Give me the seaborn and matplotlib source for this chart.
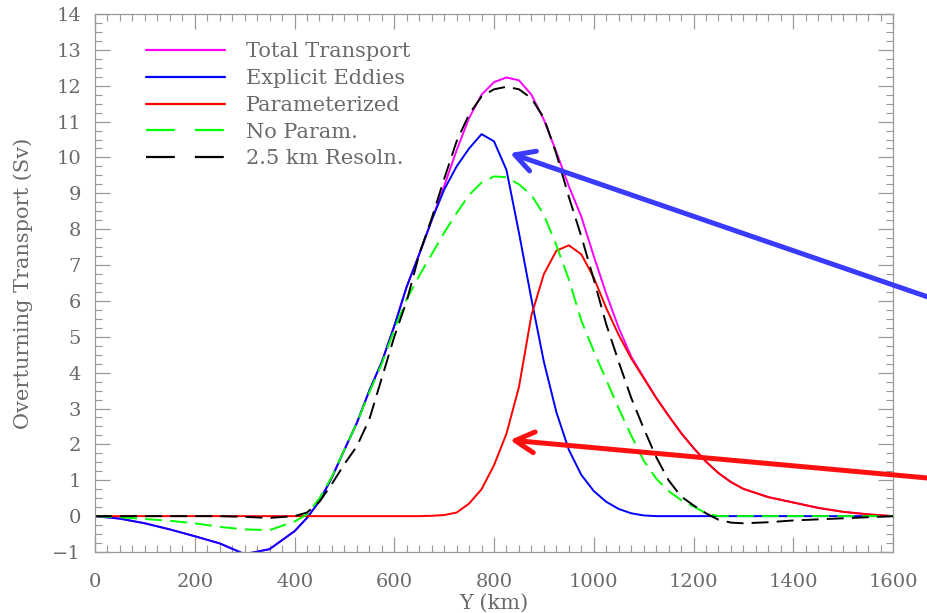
import numpy as np
import pandas as pd
import matplotlib
matplotlib.use("Agg")
import matplotlib.pyplot as plt
from matplotlib.lines import Line2D
from matplotlib.ticker import MultipleLocator
import seaborn as sns

# ---------------------------------------------------------------------------
# Data (Y in km, transport in Sv)
# ---------------------------------------------------------------------------
y_km = [0, 50, 100, 150, 200, 250, 300, 350, 400,
        425, 450, 475, 500, 525, 550, 575, 600, 625, 650, 675, 700,
        725, 750, 775, 800, 825, 850, 875, 900, 925, 950, 975, 1000,
        1025, 1050, 1075, 1100, 1125, 1150, 1175, 1200, 1225, 1250, 1275, 1300,
        1350, 1400, 1450, 1500, 1550, 1600]

explicit = [0, -0.07, -0.2, -0.37, -0.56, -0.76, -1.06, -0.92, -0.42,
            -0.05, 0.42, 1.08, 1.85, 2.6, 3.5, 4.3, 5.3, 6.4, 7.3, 8.25, 9.1,
            9.75, 10.25, 10.65, 10.45, 9.65, 7.9, 6.05, 4.3, 2.9, 1.85, 1.15, 0.7,
            0.4, 0.2, 0.08, 0.02, 0, 0, 0, 0, 0, 0, 0, 0,
            0, 0, 0, 0, 0, 0]

param = [0, 0, 0, 0, 0, 0, 0, 0, 0,
         0, 0, 0, 0, 0, 0, 0, 0, 0, 0, 0.01, 0.03,
         0.1, 0.35, 0.75, 1.42, 2.3, 3.6, 5.6, 6.75, 7.4, 7.55, 7.3, 6.65,
         5.8, 5.05, 4.4, 3.85, 3.3, 2.8, 2.32, 1.9, 1.52, 1.2, 0.95, 0.76,
         0.53, 0.38, 0.23, 0.12, 0.05, 0]

total = [0, -0.07, -0.2, -0.37, -0.56, -0.76, -1.06, -0.92, -0.42,
         -0.05, 0.42, 1.08, 1.85, 2.6, 3.5, 4.3, 5.3, 6.4, 7.3, 8.25, 9.2,
         10.2, 11.1, 11.75, 12.1, 12.23, 12.15, 11.75, 11.05, 10.15, 9.2, 8.35, 7.25,
         6.2, 5.25, 4.45, 3.87, 3.3, 2.8, 2.32, 1.9, 1.52, 1.2, 0.95, 0.76,
         0.53, 0.38, 0.23, 0.12, 0.05, 0]

no_param = [0, -0.03, -0.08, -0.13, -0.2, -0.3, -0.37, -0.39, -0.15,
            0.05, 0.5, 1.1, 1.85, 2.6, 3.45, 4.25, 5.2, 6.05, 6.7, 7.3, 7.9,
            8.45, 8.95, 9.3, 9.47, 9.45, 9.25, 8.95, 8.4, 7.55, 6.6, 5.45, 4.6,
            3.8, 3.0, 2.25, 1.55, 1.05, 0.7, 0.45, 0.27, 0.08, 0, 0, 0,
            0, 0, 0, 0, 0, 0]

hires = [0, 0, 0, 0, 0, 0, -0.02, -0.05, 0,
         0.1, 0.4, 0.9, 1.45, 1.95, 2.7, 3.85, 5.0, 6.0, 7.3, 8.3, 9.4,
         10.45, 11.2, 11.7, 11.9, 11.97, 11.9, 11.65, 11.1, 10.1, 8.9, 7.8, 6.6,
         5.35, 4.3, 3.3, 2.45, 1.65, 1.0, 0.55, 0.3, 0.08, -0.1, -0.18, -0.2,
         -0.17, -0.12, -0.09, -0.06, -0.03, 0]

labels = ["Total Transport", "Explicit Eddies", "Parameterized",
          "No Param.", "2.5 km Resoln."]
colors = ["#ff00ff", "#0000ff", "#ff0000", "#00ff00", "#000000"]

# ---------------------------------------------------------------------------
# Plot
# ---------------------------------------------------------------------------
sns.set_style("ticks")
plt.rcParams["font.family"] = ["DejaVu Serif"]
grey = "#6a6a6a"

fig = plt.figure(figsize=(9.28, 6.13), dpi=100)
ax = fig.add_axes([0.1024, 0.0995, 0.8599, 0.8777])

series = [total, explicit, param, no_param, hires]
dashed = (0, (8.7, 4.2))
styles = ["-", "-", "-", dashed, dashed]
for vals, col, ls in zip(series, colors, styles):
    sns.lineplot(x=y_km, y=vals, color=col, linewidth=1.4, linestyle=ls,
                 ax=ax, label=None)

ax.set_xlim(0, 1600)
ax.set_ylim(-1, 14)
ax.xaxis.set_major_locator(MultipleLocator(200))
ax.xaxis.set_minor_locator(MultipleLocator(25))
ax.yaxis.set_major_locator(MultipleLocator(1))
ax.yaxis.set_minor_locator(MultipleLocator(0.25))
ax.tick_params(which="both", direction="in", top=True, right=True,
               colors="#999999", labelcolor=grey, labelsize=14)
ax.tick_params(which="major", length=11, width=0.9)
ax.tick_params(which="minor", length=5, width=0.8)
ax.tick_params(axis="x", which="major", pad=15)
ax.tick_params(axis="y", which="major", pad=10)
for s in ax.spines.values():
    s.set_color("#999999")
    s.set_linewidth(0.9)

ax.set_xlabel("Y (km)", fontsize=15, color=grey, labelpad=2)
ax.set_ylabel("Overturning Transport (Sv)", fontsize=15, color=grey, labelpad=14)

# legend with its own, longer dash pattern
handles = []
for col, ls in zip(colors, styles):
    dash = "-" if ls == "-" else (0, (13, 9))
    handles.append(Line2D([0], [0], color=col, linewidth=1.6, linestyle=dash))
leg = ax.legend(handles, labels, loc="upper left", frameon=False,
                bbox_to_anchor=(0.04, 0.982), handlelength=3.8,
                handletextpad=1.0, labelspacing=0.37, fontsize=15)
for t in leg.get_texts():
    t.set_color(grey)

# annotation arrows reaching out past the axes
arrow_style = "->,head_length=0.55,head_width=0.3"
ax.annotate("", xy=(832, 10.12), xytext=(1672, 6.1),
            arrowprops=dict(arrowstyle=arrow_style, color="#3a3aff", lw=3.6,
                            mutation_scale=25, shrinkA=0, shrinkB=0),
            annotation_clip=False)
ax.annotate("", xy=(832, 2.12), xytext=(1672, 1.06),
            arrowprops=dict(arrowstyle=arrow_style, color="#ff1010", lw=3.6,
                            mutation_scale=25, shrinkA=0, shrinkB=0),
            annotation_clip=False)

fig.savefig("out.png", dpi=100)
